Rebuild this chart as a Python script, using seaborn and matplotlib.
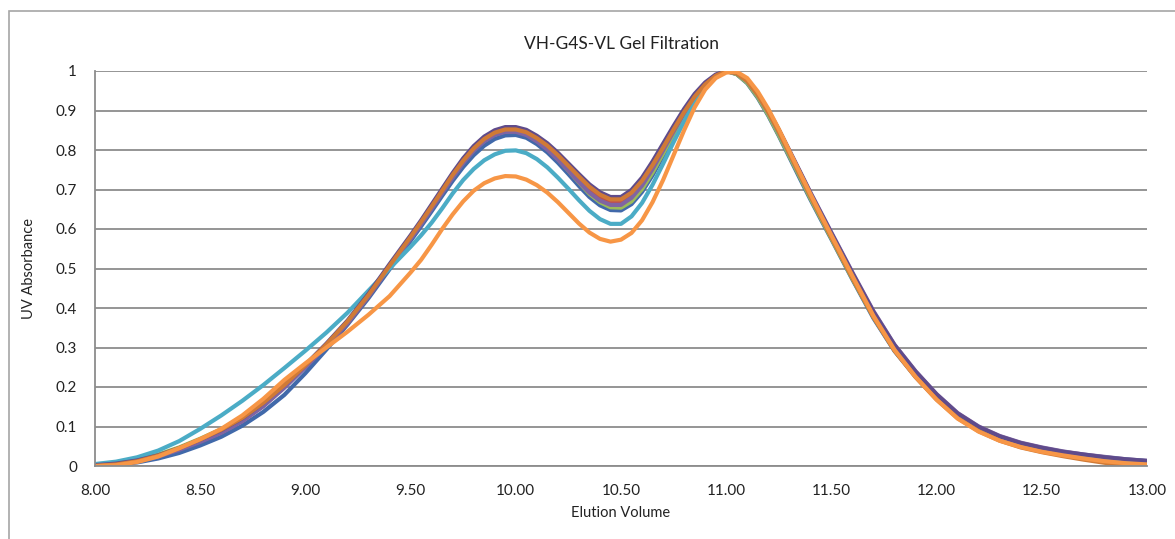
import numpy as np
import pandas as pd
import matplotlib
matplotlib.use("Agg")
from matplotlib import pyplot as plt
from matplotlib.patches import Rectangle
import seaborn as sns

# elution volume sample points (mL), denser around the two peaks
volume = [8.0, 8.1, 8.2, 8.3, 8.4, 8.5, 8.6, 8.7, 8.8, 8.9, 9.0, 9.1, 9.2, 9.3, 9.4,
          9.5, 9.55, 9.6, 9.65, 9.7, 9.75, 9.8, 9.85, 9.9, 9.95,
          10.0, 10.05, 10.1, 10.15, 10.2, 10.25, 10.3, 10.35, 10.4, 10.45,
          10.5, 10.55, 10.6, 10.65, 10.7, 10.75, 10.8, 10.85, 10.9, 10.95,
          11.0, 11.05, 11.1, 11.15, 11.2, 11.25, 11.3, 11.35, 11.4, 11.45, 11.5,
          11.6, 11.7, 11.8, 11.9, 12.0, 12.1, 12.2, 12.3, 12.4, 12.5, 12.6, 12.7, 12.8, 12.9, 13.0]

# normalised UV traces
run_blue = [0.000, 0.003, 0.009, 0.019, 0.033, 0.052, 0.074, 0.102, 0.137, 0.180, 0.235, 0.295, 0.358, 0.425, 0.498,
            0.570, 0.607, 0.645, 0.684, 0.722, 0.757, 0.787, 0.811, 0.828, 0.837,
            0.838, 0.831, 0.815, 0.794, 0.768, 0.739, 0.709, 0.681, 0.660, 0.648,
            0.647, 0.663, 0.694, 0.736, 0.785, 0.836, 0.884, 0.927, 0.961, 0.986,
            1.000, 0.992, 0.969, 0.932, 0.887, 0.836, 0.782, 0.728, 0.675, 0.624, 0.574,
            0.472, 0.374, 0.291, 0.226, 0.170, 0.123, 0.090, 0.068, 0.052, 0.040, 0.031, 0.024, 0.018, 0.013, 0.009]
run_red = [0.002, 0.006, 0.014, 0.027, 0.045, 0.066, 0.090, 0.120, 0.158, 0.203, 0.252, 0.305, 0.362, 0.430, 0.505,
           0.578, 0.615, 0.655, 0.695, 0.735, 0.772, 0.803, 0.827, 0.843, 0.851,
           0.851, 0.843, 0.828, 0.808, 0.783, 0.755, 0.727, 0.700, 0.680, 0.669,
           0.669, 0.686, 0.716, 0.757, 0.802, 0.849, 0.894, 0.934, 0.965, 0.988,
           1.000, 0.993, 0.972, 0.937, 0.893, 0.843, 0.790, 0.737, 0.683, 0.632, 0.580,
           0.478, 0.380, 0.296, 0.230, 0.173, 0.126, 0.093, 0.070, 0.054, 0.042, 0.032, 0.025, 0.019, 0.014, 0.010]
run_green = [0.002, 0.007, 0.015, 0.029, 0.047, 0.069, 0.093, 0.123, 0.161, 0.206, 0.255, 0.308, 0.365, 0.432, 0.506,
             0.578, 0.615, 0.654, 0.693, 0.732, 0.769, 0.800, 0.824, 0.840, 0.848,
             0.848, 0.840, 0.824, 0.803, 0.777, 0.748, 0.718, 0.689, 0.668, 0.655,
             0.654, 0.670, 0.701, 0.743, 0.791, 0.840, 0.887, 0.929, 0.962, 0.986,
             1.000, 0.992, 0.970, 0.934, 0.889, 0.838, 0.785, 0.732, 0.678, 0.627, 0.576,
             0.474, 0.377, 0.293, 0.228, 0.171, 0.124, 0.091, 0.069, 0.053, 0.041, 0.032, 0.025, 0.019, 0.014, 0.010]
run_purple = [0.001, 0.005, 0.012, 0.024, 0.041, 0.061, 0.084, 0.113, 0.151, 0.198, 0.250, 0.304, 0.362, 0.430, 0.503,
              0.575, 0.612, 0.651, 0.691, 0.730, 0.767, 0.798, 0.822, 0.838, 0.846,
              0.846, 0.838, 0.822, 0.801, 0.776, 0.748, 0.719, 0.692, 0.672, 0.661,
              0.661, 0.679, 0.710, 0.752, 0.799, 0.847, 0.893, 0.934, 0.966, 0.989,
              1.000, 0.995, 0.976, 0.943, 0.900, 0.851, 0.799, 0.746, 0.693, 0.642, 0.591,
              0.490, 0.392, 0.307, 0.240, 0.182, 0.134, 0.100, 0.076, 0.059, 0.047, 0.037, 0.029, 0.023, 0.017, 0.013]
run_teal = [0.005, 0.011, 0.022, 0.039, 0.063, 0.094, 0.128, 0.165, 0.205, 0.248, 0.292, 0.338, 0.388, 0.444, 0.500,
            0.555, 0.584, 0.616, 0.652, 0.690, 0.724, 0.752, 0.774, 0.789, 0.798,
            0.799, 0.792, 0.777, 0.756, 0.730, 0.702, 0.673, 0.646, 0.625, 0.613,
            0.613, 0.632, 0.666, 0.712, 0.765, 0.820, 0.872, 0.919, 0.956, 0.984,
            1.000, 0.994, 0.973, 0.938, 0.894, 0.843, 0.790, 0.737, 0.684, 0.633, 0.583,
            0.481, 0.383, 0.299, 0.233, 0.176, 0.129, 0.096, 0.073, 0.056, 0.044, 0.035, 0.027, 0.021, 0.016, 0.012]
run_dkpurple = [0.002, 0.006, 0.014, 0.027, 0.045, 0.067, 0.091, 0.121, 0.160, 0.206, 0.256, 0.310, 0.368, 0.436, 0.511,
                0.584, 0.622, 0.662, 0.702, 0.742, 0.779, 0.810, 0.834, 0.850, 0.858,
                0.858, 0.851, 0.836, 0.817, 0.793, 0.766, 0.739, 0.713, 0.693, 0.681,
                0.681, 0.699, 0.730, 0.771, 0.816, 0.861, 0.904, 0.942, 0.971, 0.991,
                1.000, 0.995, 0.976, 0.943, 0.900, 0.851, 0.798, 0.745, 0.691, 0.640, 0.589,
                0.488, 0.390, 0.306, 0.239, 0.181, 0.133, 0.099, 0.075, 0.058, 0.046, 0.036, 0.029, 0.022, 0.017, 0.013]
run_dkorange = [0.000, 0.004, 0.012, 0.026, 0.045, 0.067, 0.092, 0.122, 0.160, 0.205, 0.255, 0.308, 0.366, 0.433, 0.507,
                0.580, 0.618, 0.657, 0.697, 0.737, 0.773, 0.804, 0.828, 0.844, 0.852,
                0.852, 0.845, 0.830, 0.811, 0.787, 0.760, 0.733, 0.707, 0.687, 0.675,
                0.675, 0.692, 0.722, 0.762, 0.806, 0.852, 0.896, 0.935, 0.966, 0.988,
                1.000, 0.994, 0.974, 0.939, 0.895, 0.845, 0.791, 0.737, 0.683, 0.631, 0.579,
                0.476, 0.377, 0.292, 0.225, 0.168, 0.121, 0.088, 0.064, 0.047, 0.035, 0.025, 0.016, 0.008, 0.003, 0.000]
run_orange = [0.000, 0.002, 0.010, 0.024, 0.045, 0.068, 0.094, 0.128, 0.170, 0.218, 0.260, 0.300, 0.340, 0.383, 0.430,
              0.490, 0.522, 0.560, 0.600, 0.637, 0.670, 0.697, 0.716, 0.728, 0.734,
              0.733, 0.725, 0.711, 0.692, 0.668, 0.641, 0.614, 0.591, 0.575, 0.568,
              0.573, 0.590, 0.622, 0.668, 0.724, 0.787, 0.850, 0.908, 0.953, 0.982,
              0.996, 0.998, 0.982, 0.948, 0.904, 0.853, 0.798, 0.743, 0.689, 0.636, 0.584,
              0.481, 0.380, 0.294, 0.226, 0.168, 0.120, 0.087, 0.064, 0.048, 0.036, 0.027, 0.019, 0.012, 0.007, 0.004]

runs = {"1": run_blue, "2": run_red, "3": run_green, "4": run_purple,
        "5": run_teal, "6": run_dkpurple, "7": run_dkorange, "8": run_orange}
run_colors = ["#4169AA", "#C0504D", "#9BBB59", "#8064A2",
              "#4BACC6", "#5F4B8B", "#D07A36", "#F79646"]

x_ticks = [8.0, 8.5, 9.0, 9.5, 10.0, 10.5, 11.0, 11.5, 12.0, 12.5, 13.0]
y_ticks = [0, 0.1, 0.2, 0.3, 0.4, 0.5, 0.6, 0.7, 0.8, 0.9, 1.0]
y_labels = ["0", "0.1", "0.2", "0.3", "0.4", "0.5", "0.6", "0.7", "0.8", "0.9", "1"]

df = pd.concat([pd.DataFrame({"volume": volume, "uv": vals, "run": name})
                for name, vals in runs.items()], ignore_index=True)

sns.set_style("white")
plt.rcParams["font.family"] = ["Lato", "DejaVu Sans"]

fig = plt.figure(figsize=(11.75, 5.39), dpi=100)
ax = fig.add_axes([95 / 1175, 1 - 466 / 539, (1147 - 95) / 1175, (466 - 71) / 539])

sns.lineplot(data=df, x="volume", y="uv", hue="run", palette=run_colors,
             linewidth=3.0, legend=False, ax=ax)
for ln in ax.get_lines():
    ln.set_solid_joinstyle("round")
    ln.set_solid_capstyle("round")

grid_col = "#8C8C8C"
ax.set_xlim(8, 13)
ax.set_ylim(0, 1)
ax.set_xticks(x_ticks)
ax.set_xticklabels([f"{v:.2f}" for v in x_ticks])
ax.set_yticks(y_ticks)
ax.set_yticklabels(y_labels)
ax.yaxis.grid(True, color=grid_col, linewidth=1.3)
ax.set_axisbelow(True)
for side in ["top", "right"]:
    ax.spines[side].set_visible(False)
for side in ["left", "bottom"]:
    ax.spines[side].set_color(grid_col)
    ax.spines[side].set_linewidth(1.3)
ax.tick_params(axis="both", direction="out", length=5, width=1.2, color=grid_col,
               labelsize=11, labelcolor="#222222", pad=8)

ax.set_xlabel("Elution Volume", fontsize=10.5, color="#222222", labelpad=6)
ax.set_ylabel("UV Absorbance", fontsize=10.5, color="#222222", labelpad=14)
ax.set_title("VH-G4S-VL Gel Filtration", fontsize=12.5, color="#222222", pad=16)

# outer chart frame, cut off at the right and bottom
fig.add_artist(Rectangle((9 / 1175, -0.1), 1.2, 1 - 11 / 539 + 0.1,
                         transform=fig.transFigure, fill=False,
                         edgecolor="#A6A6A6", linewidth=1.2))

fig.savefig("out.png", dpi=100)
